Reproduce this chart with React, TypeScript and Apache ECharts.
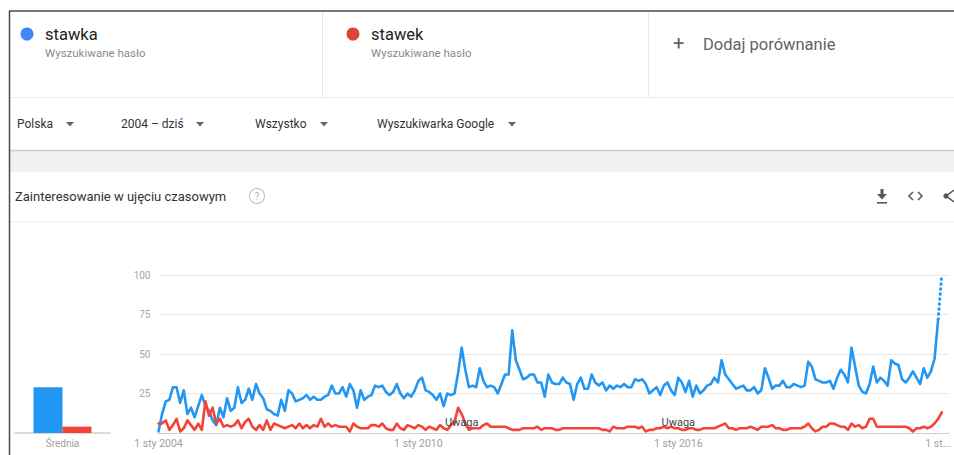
import React, { useEffect, useRef } from "react";
import * as echarts from "echarts";

const FONT = "Roboto, 'Noto Sans', sans-serif";

// ---- data ----
const termNames = ["stawka", "stawek"];
const termSubtitle = "Wyszukiwane hasło";
const addCompareLabel = "Dodaj porównanie";
const filterLabels = ["Polska", "2004 – dziś", "Wszystko", "Wyszukiwarka Google"];
const panelTitle = "Zainteresowanie w ujęciu czasowym";
const averageLabel = "Średnia";
const averages = [29, 4];

// monthly values, Jan 2004 .. Feb 2022 (one row per year)
const stawka = [
  1, 12, 20, 21, 29, 29, 19, 27, 12, 16, 10, 17,
  24, 17, 14, 8, 5, 16, 10, 22, 14, 16, 29, 19,
  21, 28, 21, 31, 25, 22, 15, 14, 12, 11, 21, 14,
  27, 25, 20, 21, 22, 24, 21, 23, 21, 21, 23, 24,
  30, 25, 25, 29, 23, 31, 27, 16, 27, 21, 23, 24,
  30, 29, 30, 26, 24, 26, 31, 25, 22, 25, 23, 27,
  33, 35, 27, 26, 24, 21, 25, 17, 25, 24, 25, 38,
  54, 40, 29, 30, 29, 41, 33, 29, 30, 29, 25, 31,
  37, 37, 65, 46, 40, 34, 35, 37, 37, 32, 32, 23,
  37, 32, 31, 31, 35, 32, 31, 21, 31, 35, 28, 28,
  37, 32, 30, 32, 27, 30, 28, 30, 29, 31, 29, 29,
  34, 33, 34, 31, 25, 27, 29, 24, 30, 32, 27, 24,
  35, 32, 26, 33, 23, 30, 25, 27, 30, 31, 35, 32,
  46, 37, 34, 31, 28, 29, 30, 27, 27, 29, 25, 27,
  41, 35, 28, 30, 30, 33, 29, 29, 31, 30, 29, 30,
  45, 42, 34, 33, 32, 32, 33, 28, 35, 40, 37, 32,
  54, 42, 30, 26, 25, 31, 42, 32, 35, 33, 30, 46,
  44, 43, 34, 32, 35, 39, 35, 31, 41, 35, 39, 47,
  72, 100,
];
const stawek = [
  6, 6, 8, 2, 5, 9, 1, 3, 8, 5, 2, 6,
  2, 20, 11, 16, 6, 9, 4, 5, 4, 5, 8, 3,
  7, 9, 4, 2, 5, 2, 8, 2, 6, 5, 4, 3,
  4, 5, 3, 6, 3, 5, 3, 5, 4, 9, 4, 6,
  4, 5, 4, 4, 4, 1, 6, 4, 3, 3, 3, 5,
  5, 4, 6, 3, 2, 2, 6, 3, 2, 5, 4, 3,
  5, 4, 2, 4, 3, 2, 5, 3, 2, 5, 7, 16,
  12, 6, 2, 3, 3, 3, 5, 6, 4, 4, 4, 4,
  4, 3, 2, 2, 2, 3, 3, 3, 3, 4, 2, 3,
  3, 3, 2, 2, 3, 3, 3, 3, 3, 3, 3, 3,
  3, 3, 3, 2, 2, 1, 4, 3, 3, 3, 4, 4,
  4, 3, 4, 1, 2, 2, 3, 3, 4, 3, 4, 3,
  3, 2, 2, 3, 3, 2, 2, 3, 3, 3, 3, 4,
  5, 6, 3, 3, 2, 3, 3, 3, 4, 3, 2, 4,
  4, 4, 5, 3, 3, 2, 2, 3, 3, 3, 3, 4,
  6, 3, 1, 2, 4, 4, 6, 6, 5, 4, 4, 2,
  6, 4, 5, 3, 4, 9, 9, 4, 4, 4, 4, 4,
  4, 4, 4, 4, 3, 1, 3, 3, 4, 3, 4, 6,
  9, 13,
];
const yTicks = [0, 25, 50, 75, 100];
const xTickIndex = [0, 72, 144, 216];
const xTickLabels = ["1 sty 2004", "1 sty 2010", "1 sty 2016", "1 st..."];
const noteLabel = "Uwaga";
const noteMonths = [84, 144];

// ---- style ----
const BLUE = "#2196f3";
const RED = "#f44336";
const DOT_BLUE = "#4285f4";
const DOT_RED = "#db4437";

function txt(text: string, x: number, y: number, size: number, fill: string, extra: any = {}) {
  return {
    type: "text",
    z: 10,
    style: { text, x, y, fill, fontSize: size, fontFamily: FONT, verticalAlign: "middle", align: "left", ...extra },
  };
}

function arrow(cx: number, cy: number) {
  return {
    type: "polygon",
    z: 10,
    shape: { points: [[cx - 4, cy - 2], [cx + 4, cy - 2], [cx, cy + 2.5]] },
    style: { fill: "#666" },
  };
}

export default function App() {
  const ref = useRef<HTMLDivElement>(null);
  useEffect(() => {
    if (!ref.current) return;
    const chart = echarts.init(ref.current, undefined, { renderer: "svg" });
    const last = stawka.length - 1;
    const blueSolid = stawka.slice(0, last).map((v, i) => [i, v]);
    const blueDotted = stawka.slice(last - 1).map((v, k) => [last - 1 + k, v]);
    const redLine = stawek.map((v, i) => [i, v]);
    const filterX = [17, 121, 255, 377];
    const arrowX = [70, 200, 324, 512];

    const graphic: any[] = [
      // frame
      { type: "rect", z: 1, shape: { x: 10, y: 150, width: 944, height: 22 }, style: { fill: "#f1f1f1" } },
      { type: "line", z: 2, shape: { x1: 10, y1: 150.5, x2: 954, y2: 150.5 }, style: { stroke: "#cfcfcf", lineWidth: 1.5 } },
      { type: "line", z: 2, shape: { x1: 10, y1: 97.5, x2: 954, y2: 97.5 }, style: { stroke: "#ececec", lineWidth: 1 } },
      { type: "line", z: 2, shape: { x1: 10, y1: 221.5, x2: 954, y2: 221.5 }, style: { stroke: "#efefef", lineWidth: 1 } },
      { type: "line", z: 2, shape: { x1: 322.5, y1: 11, x2: 322.5, y2: 97 }, style: { stroke: "#e6e6e6", lineWidth: 1 } },
      { type: "line", z: 2, shape: { x1: 648.5, y1: 11, x2: 648.5, y2: 97 }, style: { stroke: "#e6e6e6", lineWidth: 1 } },
      { type: "line", z: 3, shape: { x1: 9, y1: 11, x2: 954, y2: 11 }, style: { stroke: "#4a4a4a", lineWidth: 1.5 } },
      { type: "line", z: 3, shape: { x1: 9.5, y1: 11, x2: 9.5, y2: 455 }, style: { stroke: "#4a4a4a", lineWidth: 1.5 } },
      // terms
      { type: "circle", z: 10, shape: { cx: 27, cy: 34, r: 6.5 }, style: { fill: DOT_BLUE } },
      txt(termNames[0], 45, 34, 16.5, "#222"),
      txt(termSubtitle, 45, 53, 11.5, "#8a8a8a"),
      { type: "circle", z: 10, shape: { cx: 353, cy: 34, r: 6.5 }, style: { fill: DOT_RED } },
      txt(termNames[1], 371, 34, 16.5, "#222"),
      txt(termSubtitle, 371, 53, 11.5, "#8a8a8a"),
      txt("+", 673, 43, 20, "#5f6368"),
      txt(addCompareLabel, 703, 44, 16.5, "#5f6368"),
      // filters
      ...filterLabels.map((l, i) => txt(l, filterX[i], 124, 12, "#333")),
      ...arrowX.map((x) => arrow(x, 124)),
      // panel title
      txt(panelTitle, 15, 196, 13, "#333"),
      { type: "circle", z: 10, shape: { cx: 257, cy: 196, r: 7.5 }, style: { fill: "none", stroke: "#c4c4c4", lineWidth: 1.2 } },
      txt("?", 257, 196.5, 10, "#b5b5b5", { align: "center" }),
      // download icon
      { type: "rect", z: 10, shape: { x: 880.5, y: 189, width: 3, height: 6 }, style: { fill: "#555" } },
      { type: "polygon", z: 10, shape: { points: [[877, 194], [887, 194], [882, 199.5]] }, style: { fill: "#555" } },
      { type: "rect", z: 10, shape: { x: 877, y: 202, width: 10, height: 1.6 }, style: { fill: "#555" } },
      // embed icon
      { type: "polyline", z: 10, shape: { points: [[913, 192], [909, 196], [913, 200]] }, style: { stroke: "#555", lineWidth: 1.5, fill: "none" } },
      { type: "polyline", z: 10, shape: { points: [[918, 192], [922, 196], [918, 200]] }, style: { stroke: "#555", lineWidth: 1.5, fill: "none" } },
      // share icon (cut at edge)
      { type: "polyline", z: 10, shape: { points: [[954, 190], [946, 196], [954, 202]] }, style: { stroke: "#555", lineWidth: 1.5, fill: "none" } },
      { type: "circle", z: 10, shape: { cx: 946, cy: 196, r: 2.6 }, style: { fill: "#555" } },
    ];

    const option: any = {
      animation: false,
      backgroundColor: "#fff",
      textStyle: { fontFamily: FONT },
      graphic,
      grid: [
        { left: 15, top: 275, width: 95, height: 158 },
        { left: 158.5, top: 275, right: 0, height: 158 },
      ],
      xAxis: [
        {
          type: "category",
          gridIndex: 0,
          data: [averageLabel],
          axisLine: { lineStyle: { color: "#cfcfcf", width: 1.5 } },
          axisTick: { show: false },
          axisLabel: { color: "#9e9e9e", fontSize: 10, margin: 5, fontFamily: FONT },
        },
        {
          type: "value",
          gridIndex: 1,
          min: 0,
          max: 219,
          interval: 72,
          splitLine: { show: false },
          axisTick: { show: false },
          axisLine: { show: true, lineStyle: { color: "#cfcfcf", width: 1 } },
          axisLabel: {
            color: "#9e9e9e",
            fontSize: 10.5,
            margin: 5,
            fontFamily: FONT,
            showMaxLabel: false,
            formatter: (v: number) => {
              const k = xTickIndex.indexOf(v);
              return k >= 0 ? xTickLabels[k] : "";
            },
          },
        },
      ],
      yAxis: [
        { type: "value", gridIndex: 0, min: 0, max: 100, show: false },
        {
          type: "value",
          gridIndex: 1,
          min: yTicks[0],
          max: yTicks[yTicks.length - 1],
          interval: yTicks[1] - yTicks[0],
          axisLine: { show: false },
          axisTick: { show: false },
          splitLine: { lineStyle: { color: "#e8e8e8", width: 1 } },
          axisLabel: {
            color: "#a6a6a6",
            fontSize: 10,
            margin: 8,
            fontFamily: FONT,
            formatter: (v: number) => (v === 0 ? "" : String(v)),
          },
        },
      ],
      series: [
        {
          type: "bar",
          xAxisIndex: 0,
          yAxisIndex: 0,
          data: [averages[0]],
          barWidth: 29,
          barGap: "0%",
          itemStyle: { color: BLUE },
        },
        {
          type: "bar",
          xAxisIndex: 0,
          yAxisIndex: 0,
          data: [averages[1]],
          barWidth: 29,
          barGap: "0%",
          itemStyle: { color: RED },
        },
        {
          type: "line",
          name: termNames[0],
          xAxisIndex: 1,
          yAxisIndex: 1,
          data: blueSolid,
          symbol: "none",
          lineStyle: { color: BLUE, width: 2.6, join: "round", cap: "round" },
        },
        {
          type: "line",
          xAxisIndex: 1,
          yAxisIndex: 1,
          data: blueDotted,
          symbol: "none",
          lineStyle: { color: BLUE, width: 3, type: [0.5, 4.5], cap: "round" },
        },
        {
          type: "line",
          name: termNames[1],
          xAxisIndex: 1,
          yAxisIndex: 1,
          data: redLine,
          symbol: "none",
          lineStyle: { color: RED, width: 2.6, join: "round", cap: "round" },
          markPoint: {
            symbol: "circle",
            symbolSize: 1,
            itemStyle: { color: "rgba(0,0,0,0)" },
            label: { show: true, position: "inside", formatter: noteLabel, color: "#444", fontSize: 11, fontFamily: FONT },
            data: noteMonths.map((m) => ({ coord: [m, 6.5] })),
          },
        },
      ],
    };
    chart.setOption(option);
    return () => chart.dispose();
  }, []);
  return (
    <div
      ref={ref}
      style={{ position: "fixed", left: 0, top: 0, width: 954, height: 455, background: "#fff" }}
    />
  );
}
